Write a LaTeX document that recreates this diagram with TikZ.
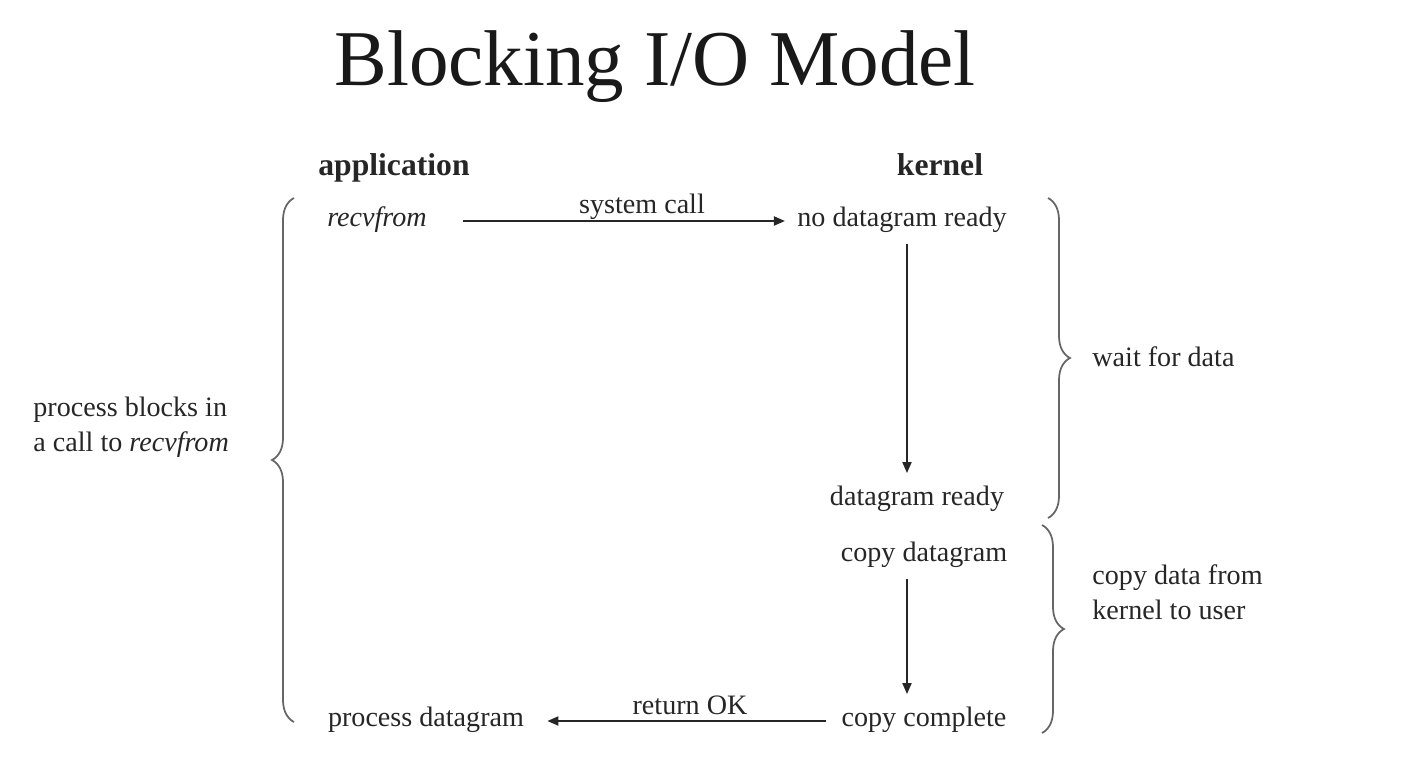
\documentclass[tikz,border=0pt]{standalone}
\usepackage{fontspec}
\setmainfont{Liberation Serif}
\usetikzlibrary{arrows.meta,decorations.pathreplacing}

\tikzset{
  lbl/.style={anchor=base, text=black!85, font=\fontsize{8}{9.7}\selectfont},
  head/.style={lbl, font=\fontsize{9}{11}\selectfont\bfseries},
  flow/.style={-{Triangle[length=1.1mm,width=0.9mm]}, line width=0.55pt, black!85},
  grp/.style={decorate, decoration={brace, amplitude=0.22cm}, black!60, line width=0.5pt},
}

\begin{document}
\begin{tikzpicture}
\useasboundingbox (0,0) rectangle (14.22,-7.76);

% ---------- title ----------
\node[anchor=base, text=black!90, font=\fontsize{22.5}{28}\selectfont] (title) at (6.55,-0.85) {Blocking I/O Model};

% ---------- columns ----------
\node[head] (app) at (3.94,-1.75) {application};
\node[head] (kern) at (9.40,-1.75) {kernel};

% ---------- system call ----------
\node[lbl] (recv) at (3.77,-2.26) {\itshape recvfrom};
\node[lbl] (nodr) at (9.02,-2.26) {no datagram ready};
\node[lbl] (sysc) at (6.42,-2.13) {system call};
\draw[flow, shorten <=0.24cm] ([yshift=0.05cm]recv.base east) -- ([yshift=0.05cm]nodr.base west);

% ---------- kernel side ----------
\coordinate (kx) at (9.07,0);
\node[lbl] (dr) at (9.17,-5.05) {datagram ready};
\node[lbl] (cpd) at (9.24,-5.61) {copy datagram};
\node[lbl] (cpc) at (9.24,-7.26) {copy complete};
\draw[flow] (kx |- nodr.south) -- (kx |- dr.north);
\draw[flow] (kx |- cpd.south) -- (kx |- cpc.north);

% ---------- return ----------
\node[lbl] (proc) at (4.26,-7.26) {process datagram};
\node[lbl] (ret) at (6.90,-7.14) {return OK};
\draw[flow, shorten <=0.03cm, shorten >=0.11cm] ([yshift=0.05cm]cpc.base west) -- ([yshift=0.05cm]proc.base east);

% ---------- braces ----------
\draw[grp] (2.94,-7.22) -- (2.94,-1.98);
\draw[grp] (10.48,-1.98) -- (10.48,-5.18);
\draw[grp] (10.42,-5.25) -- (10.42,-7.33);

\node[lbl, anchor=base west, align=left] (blk) at (0.21,-4.51) {process blocks in\\a call to \textit{recvfrom}};
\node[lbl, anchor=base west] (wait) at (10.80,-3.66) {wait for data};
\node[lbl, anchor=base west, align=left] (copy) at (10.80,-6.19) {copy data from\\kernel to user};

\end{tikzpicture}
\end{document}
